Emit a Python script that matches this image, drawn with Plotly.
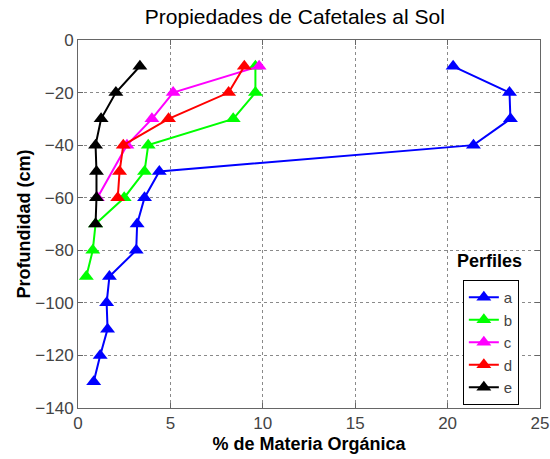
import plotly.graph_objects as go

# Organic matter (%) by depth (cm) for each soil profile
depth_a = [-10, -20, -30, -40, -50, -60, -70, -80, -90, -100, -110, -120, -130]
om_a = [20.3, 23.35, 23.4, 21.4, 4.4, 3.6, 3.2, 3.15, 1.7, 1.55, 1.6, 1.2, 0.85]

depth_b = [-10, -20, -30, -40, -50, -60, -70, -80, -90]
om_b = [9.6, 9.6, 8.4, 3.8, 3.6, 2.5, 0.95, 0.8, 0.45]

depth_c = [-10, -20, -30, -40, -60]
om_c = [9.8, 5.15, 4.0, 2.65, 1.05]

depth_d = [-10, -20, -30, -40, -50, -60]
om_d = [9.0, 8.15, 4.9, 2.45, 2.25, 2.15]

depth_e = [-10, -20, -30, -40, -50, -60, -70]
om_e = [3.35, 2.05, 1.25, 0.95, 1.0, 1.0, 0.95]

profiles = [
    ("a", om_a, depth_a, "#0000ff"),
    ("b", om_b, depth_b, "#00ff00"),
    ("c", om_c, depth_c, "#ff00ff"),
    ("d", om_d, depth_d, "#ff0000"),
    ("e", om_e, depth_e, "#000000"),
]

x_ticks = [0, 5, 10, 15, 20, 25]
y_ticks = [0, -20, -40, -60, -80, -100, -120, -140]

NARROW = "Liberation Sans Narrow, Arial Narrow, Liberation Sans, Arial"
REGULAR = "Liberation Sans, Arial"

fig = go.Figure()
for name, xs, ys, color in profiles:
    fig.add_trace(go.Scatter(
        x=xs, y=ys, name=name, mode="lines+markers",
        line=dict(color=color, width=2),
        marker=dict(symbol="triangle-up", size=13, color=color),
    ))

axis_common = dict(
    showgrid=True, gridcolor="#8a8a8a", griddash="dot", gridwidth=1,
    zeroline=False, showline=True, linecolor="#666666", linewidth=1,
    mirror="ticks", ticks="inside", ticklen=5, tickcolor="#666666",
    tickfont=dict(family=NARROW, size=17, color="#444444"),
    automargin=False,
)

fig.update_xaxes(
    range=[0, 25], tickvals=x_ticks,
    title=dict(text="<b>% de Materia Orgánica</b>",
               font=dict(family=NARROW, size=18, color="#000000"),
               standoff=4),
    **axis_common,
)
fig.update_yaxes(
    range=[-140, 0], tickvals=y_ticks,
    title=dict(text="<b>Profundidad (cm)</b>",
               font=dict(family=NARROW, size=18, color="#000000"),
               standoff=0),
    **axis_common,
)

fig.update_layout(
    width=550, height=459,
    margin=dict(l=78, r=10, t=40, b=51),
    paper_bgcolor="white", plot_bgcolor="white",
    title=dict(text="Propiedades de Cafetales al Sol", x=0.536, xanchor="center",
               y=0.963, yanchor="middle",
               font=dict(family=REGULAR, size=21, color="#000000")),
    legend=dict(
        x=0.833, y=0.008, xanchor="left", yanchor="bottom",
        bgcolor="white", bordercolor="#000000", borderwidth=1,
        font=dict(family=REGULAR, size=15, color="#444444"),
        itemwidth=30, tracegroupgap=0,
    ),
    annotations=[dict(
        text="<b>Perfiles</b>", x=0.89, y=0.40, xref="paper", yref="paper",
        xanchor="center", yanchor="middle", showarrow=False,
        font=dict(family=REGULAR, size=18, color="#000000"),
    )],
    showlegend=True,
)

fig.write_html("out.html")
